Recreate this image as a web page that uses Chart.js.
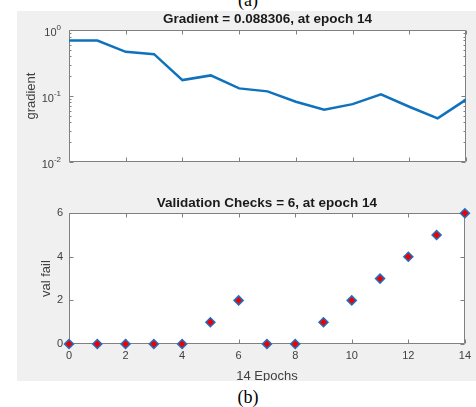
<!DOCTYPE html>
<html>
<head>
<meta charset="utf-8">
<script src="https://cdn.jsdelivr.net/npm/chart.js@4.4.0/dist/chart.umd.min.js"></script>
<style>
  html, body { margin: 0; padding: 0; background: #fff; width: 476px; height: 407px; overflow: hidden; }
  #panel { position: absolute; left: 17px; top: 11px; width: 459px; height: 370px; background: #f0f0f0; overflow: hidden; }
  #panel canvas { position: absolute; left: -17px; }
  .cap { position: absolute; left: 0; width: 496px; text-align: center; font-family: 'Liberation Serif', 'Times New Roman', serif; font-size: 18px; line-height: 20px; color: #000; }
</style>
</head>
<body>
<div class="cap" style="top:-10px">(a)</div>
<div id="panel">
  <canvas id="grad" width="476" height="190" style="top:-11px"></canvas>
  <canvas id="val" width="476" height="210" style="top:179px"></canvas>
</div>
<div class="cap" style="top:387px">(b)</div>
<script>
const epochs = [0, 1, 2, 3, 4, 5, 6, 7, 8, 9, 10, 11, 12, 13, 14];
const gradient = [0.697, 0.697, 0.47, 0.433, 0.175, 0.206, 0.131, 0.118, 0.082, 0.062, 0.0756, 0.106, 0.0689, 0.0459, 0.088306];
const valFail = [0, 0, 0, 0, 0, 1, 2, 0, 0, 1, 2, 3, 4, 5, 6];
const gradTicks = [0.01, 0.1, 1];
const gradTickExp = ['-2', '-1', '0'];

const font = "'Liberation Sans', Arial, sans-serif";
const tickColor = '#404040';
const edge = '#808080';

// minor ticks of the log axis: 2..9 in each decade
const minorTicks = [];
for (let d = 0; d < gradTicks.length - 1; d++) {
  for (let k = 2; k <= 9; k++) minorTicks.push(k * gradTicks[d]);
}

// white axes, grey box and inward ticks like matlab
const axesBox = {
  id: 'axesBox',
  beforeDraw(chart) {
    const { ctx, chartArea: a } = chart;
    ctx.save();
    ctx.fillStyle = '#fff';
    ctx.fillRect(a.left, a.top, a.right - a.left, a.bottom - a.top);
    ctx.restore();
  },
  beforeDatasetsDraw(chart, args, opts) {
    const { ctx, chartArea: a, scales: { x, y } } = chart;
    const L = Math.round(a.left) + 0.5, R = Math.round(a.right) - 0.5;
    const T = Math.round(a.top) + 0.5, B = Math.round(a.bottom) - 0.5;
    ctx.save();
    ctx.strokeStyle = edge;
    ctx.lineWidth = 1;
    ctx.beginPath();
    ctx.rect(L, T, R - L, B - T);
    x.ticks.forEach((t) => {
      const px = Math.round(x.getPixelForValue(t.value)) + 0.5;
      ctx.moveTo(px, B); ctx.lineTo(px, B - 4);
      ctx.moveTo(px, T); ctx.lineTo(px, T + 4);
    });
    y.ticks.forEach((t) => {
      const py = Math.round(y.getPixelForValue(t.value)) + 0.5;
      ctx.moveTo(L, py); ctx.lineTo(L + 4, py);
      ctx.moveTo(R, py); ctx.lineTo(R - 4, py);
    });
    (opts.minor || []).forEach((v) => {
      const py = Math.round(y.getPixelForValue(v)) + 0.5;
      ctx.moveTo(L, py); ctx.lineTo(L + 2, py);
      ctx.moveTo(R, py); ctx.lineTo(R - 2, py);
    });
    ctx.stroke();
    ctx.restore();
  },
  afterDraw(chart, args, opts) {
    if (!opts.expLabels) return;
    const { ctx, chartArea: a, scales: { y } } = chart;
    ctx.save();
    ctx.fillStyle = tickColor;
    ctx.textAlign = 'right';
    ctx.textBaseline = 'middle';
    y.ticks.forEach((t, i) => {
      const py = y.getPixelForValue(t.value);
      const right = a.left - 8;
      ctx.font = '8px ' + font;
      const exp = opts.expLabels[i];
      ctx.fillText(exp, right, py - 2);
      const w = ctx.measureText(exp).width;
      ctx.font = '11px ' + font;
      ctx.fillText('10', right - w, py + 3);
    });
    ctx.restore();
  }
};

Chart.register(axesBox);

const noGrid = { display: false, drawTicks: false };

new Chart(document.getElementById('grad'), {
  type: 'line',
  data: {
    datasets: [{
      data: epochs.map((e, i) => ({ x: e, y: gradient[i] })),
      borderColor: '#0f72bd',
      borderWidth: 2.5,
      pointRadius: 0,
      tension: 0
    }]
  },
  options: {
    responsive: false,
    animation: false,
    layout: { padding: { left: 0, right: 10, top: 0, bottom: 0 } },
    plugins: {
      legend: { display: false },
      tooltip: { enabled: false },
      title: {
        display: true,
        text: 'Gradient = 0.088306, at epoch 14',
        fullSize: false,
        color: '#1a1a1a',
        font: { family: font, size: 13.5, weight: 'bold' },
        padding: { top: 11, bottom: 3 }
      },
      axesBox: { minor: minorTicks, expLabels: gradTickExp }
    },
    scales: {
      x: {
        type: 'linear', min: 0, max: 14,
        ticks: { display: false, stepSize: 2 },
        grid: noGrid, border: { display: false },
        afterFit: (s) => { s.height = 28; }
      },
      y: {
        type: 'logarithmic', min: 0.01, max: 1,
        ticks: { display: false },
        afterBuildTicks: (s) => { s.ticks = gradTicks.map((v) => ({ value: v })); },
        grid: noGrid, border: { display: false },
        title: {
          display: true, text: 'gradient', color: tickColor,
          font: { family: font, size: 13 }, padding: { top: 24 }
        },
        afterFit: (s) => { s.width = 69; }
      }
    }
  }
});

new Chart(document.getElementById('val'), {
  type: 'scatter',
  data: {
    datasets: [{
      data: epochs.map((e, i) => ({ x: e, y: valFail[i] })),
      pointStyle: 'rectRot',
      pointRadius: 4.5,
      backgroundColor: '#f00000',
      borderColor: '#1f6fbf',
      borderWidth: 1.5,
      clip: false
    }]
  },
  options: {
    responsive: false,
    animation: false,
    layout: { padding: { left: 0, right: 10, top: 0, bottom: 0 } },
    plugins: {
      legend: { display: false },
      tooltip: { enabled: false },
      title: {
        display: true,
        text: 'Validation Checks = 6, at epoch 14',
        fullSize: false,
        color: '#1a1a1a',
        font: { family: font, size: 13.5, weight: 'bold' },
        padding: { top: 5, bottom: 2 }
      },
      axesBox: {}
    },
    scales: {
      x: {
        type: 'linear', min: 0, max: 14,
        ticks: { stepSize: 2, color: tickColor, font: { family: font, size: 11 }, padding: 5, maxRotation: 0 },
        grid: noGrid, border: { display: false },
        title: {
          display: true, text: '14 Epochs', color: tickColor,
          font: { family: font, size: 13 }, padding: { top: 0, bottom: 16 }
        },
        afterFit: (s) => { s.height = 56; }
      },
      y: {
        type: 'linear', min: 0, max: 6,
        ticks: { stepSize: 2, color: tickColor, font: { family: font, size: 11 }, padding: 6 },
        grid: noGrid, border: { display: false },
        title: {
          display: true, text: 'val fail', color: tickColor,
          font: { family: font, size: 13 }, padding: { top: 39 }
        },
        afterFit: (s) => { s.width = 69; }
      }
    }
  }
});
</script>
</body>
</html>
